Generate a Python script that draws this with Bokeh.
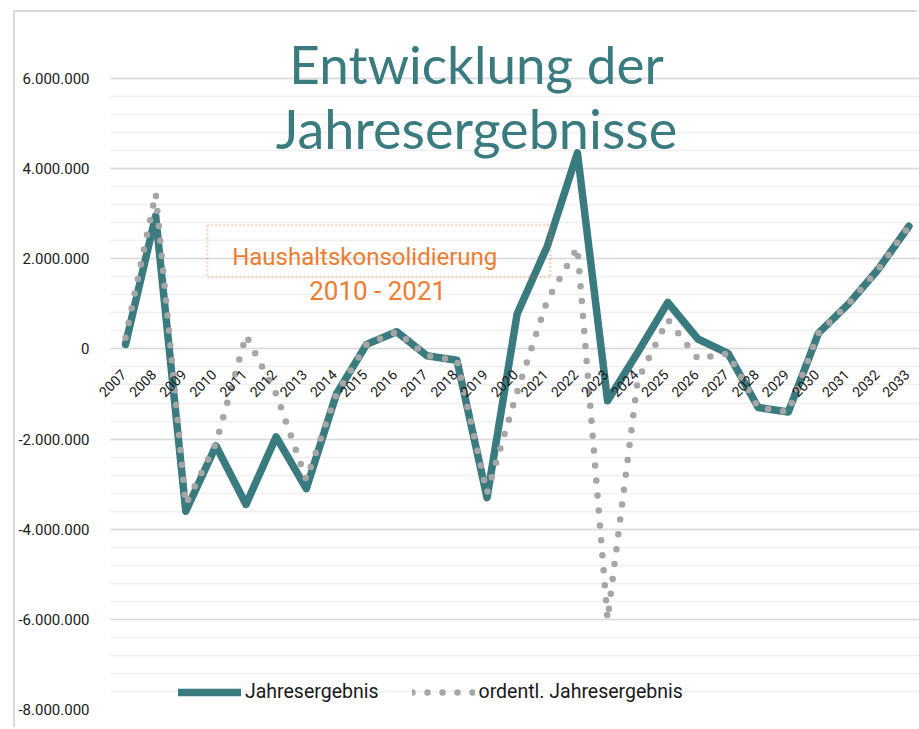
import numpy as np
from bokeh.plotting import figure
from bokeh.models import (Range1d, FixedTicker, Legend, LegendItem, LinearAxis,
                          Label, BoxAnnotation)
from bokeh.embed import file_html
from bokeh.resources import INLINE

# ---------------- data ----------------
years = ["2007", "2008", "2009", "2010", "2011", "2012", "2013", "2014", "2015",
         "2016", "2017", "2018", "2019", "2020", "2021", "2022", "2023", "2024",
         "2025", "2026", "2027", "2028", "2029", "2030", "2031", "2032", "2033"]

jahresergebnis = [100000, 2950000, -3600000, -2150000, -3450000, -1950000, -3100000,
                  -1000000, 100000, 380000, -150000, -250000, -3300000, 780000,
                  2280000, 4350000, -1150000, -80000, 1030000, 220000, -100000,
                  -1300000, -1400000, 350000, 1000000, 1780000, 2720000]

ordentl_jahresergebnis = [250000, 3450000, -3450000, -2100000, 300000, -1000000, -2900000,
                          -1000000, 100000, 380000, -150000, -250000, -3200000, -950000,
                          1080000, 2250000, -6000000, -700000, 650000, -220000, -100000,
                          -1300000, -1400000, 350000, 1000000, 1780000, 2720000]

y_tick_values = [-8000000, -6000000, -4000000, -2000000, 0, 2000000, 4000000, 6000000]
y_tick_labels = ["-8.000.000", "-6.000.000", "-4.000.000", "-2.000.000", "0",
                 "2.000.000", "4.000.000", "6.000.000"]

title_lines = ["Entwicklung der", "Jahresergebnisse"]
note_lines = ["Haushaltskonsolidierung", "2010 - 2021"]
series_names = ["Jahresergebnis", "ordentl. Jahresergebnis"]

# ---------------- style ----------------
TEAL = "#3a7b7f"
GREY = "#a6a6a6"
ORANGE = "#ed7d31"
TXT = "#1a1a1a"
FONT = "Roboto"
LABEL_SHIFT = -0.07   # rotated year labels sit slightly left of their category

xs = list(range(len(years)))

p = figure(width=904, height=717, output_backend="svg", toolbar_location=None,
           x_range=Range1d(-0.5 - 14 / 30.2, -0.5 + 811 / 30.2),
           y_range=Range1d(-8000000, 7464000),
           min_border_left=79, min_border_right=0, min_border_top=0,
           min_border_bottom=20, x_axis_type=None)
p.styles = {"margin-left": "15px", "margin-top": "12px",
            "box-shadow": "-2px -2px 0 0 #d9d9d9"}
p.outline_line_color = None
p.background_fill_color = "white"
p.border_fill_color = "white"

# y axis
yt = FixedTicker(ticks=y_tick_values,
                 minor_ticks=list(np.arange(-8000000, 6000001, 400000)))
p.yaxis.ticker = yt
p.yaxis.major_label_overrides = {v: l for v, l in zip(y_tick_values, y_tick_labels)}
p.yaxis.axis_line_color = None
p.yaxis.major_tick_line_color = None
p.yaxis.minor_tick_line_color = None
p.yaxis.major_label_standoff = 1
p.yaxis.major_label_text_font = FONT
p.yaxis.major_label_text_font_size = "15px"
p.yaxis.major_label_text_color = TXT

p.ygrid.ticker = yt
p.ygrid.grid_line_color = "#d9d9d9"
p.ygrid.grid_line_width = 1.6
p.ygrid.minor_grid_line_color = "#efefef"
p.ygrid.minor_grid_line_width = 1.6
p.xgrid.visible = False

# keep the gridlines starting at the first category band
p.add_layout(BoxAnnotation(right=-0.5, fill_color="white", fill_alpha=1,
                           line_color=None, level="underlay"))

# category axis drawn on the zero line
x_ticks = [i + LABEL_SHIFT for i in xs]
xaxis = LinearAxis(ticker=FixedTicker(ticks=x_ticks),
                   major_label_overrides={t: y for t, y in zip(x_ticks, years)})
xaxis.fixed_location = 0
xaxis.axis_line_color = None
xaxis.major_tick_line_color = None
xaxis.minor_tick_line_color = None
xaxis.major_label_orientation = np.pi / 4
xaxis.major_label_standoff = 17
xaxis.major_label_text_font = FONT
xaxis.major_label_text_font_size = "14px"
xaxis.major_label_text_color = TXT
p.add_layout(xaxis, "below")

# series
r1 = p.line(xs, jahresergebnis, line_color=TEAL, line_width=7.5,
            line_join="round", line_cap="round")
r2 = p.line(xs, ordentl_jahresergebnis, line_color=GREY, line_width=6.5,
            line_dash="0 15", line_cap="round", line_join="round")

# title
p.add_layout(Label(x=11.65, y=6340000, text=title_lines[0], text_align="center",
                   text_baseline="alphabetic", text_font="Lato",
                   text_font_size="53px", text_color=TEAL))
p.add_layout(Label(x=11.65, y=4897000, text=title_lines[1], text_align="center",
                   text_baseline="alphabetic", text_font="Lato",
                   text_font_size="54px", text_color=TEAL))

# annotation box
p.add_layout(BoxAnnotation(left=2.71, right=14.1, bottom=1590000, top=2745000,
                           fill_color=None, line_color=ORANGE, line_width=2.5,
                           line_dash="2 2"))
p.add_layout(Label(x=7.94, y=2050000, text=note_lines[0], text_align="center",
                   text_baseline="alphabetic", text_font=FONT,
                   text_font_size="24px", text_color=ORANGE))
p.add_layout(Label(x=8.37, y=1290000, text=note_lines[1], text_align="center",
                   text_baseline="alphabetic", text_font=FONT,
                   text_font_size="26px", text_color=ORANGE))

# legend
legend = Legend(items=[LegendItem(label=series_names[0], renderers=[r1]),
                       LegendItem(label=series_names[1], renderers=[r2])],
                orientation="horizontal", location=(82, 6),
                glyph_width=63, glyph_height=20, label_standoff=4, spacing=33,
                padding=0, margin=0, border_line_color=None,
                background_fill_alpha=0, label_text_font=FONT,
                label_text_font_size="19.5px", label_text_color=TXT)
p.add_layout(legend)

open("out.html", "w").write(file_html(p, INLINE))
